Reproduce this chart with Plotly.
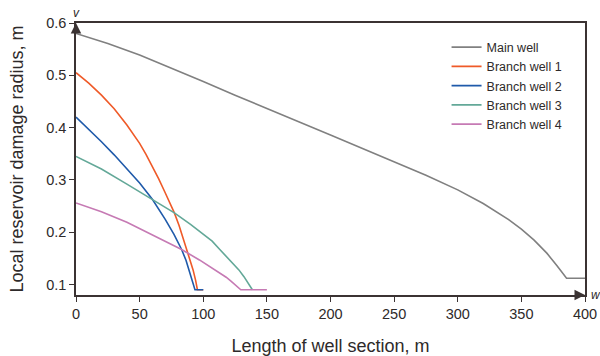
import plotly.graph_objects as go

# Damage radius profiles along each well section
main_x = [0, 25, 50, 75, 100, 125, 150, 175, 200, 225, 250, 275, 300, 320, 340, 350,
          360, 370, 378, 385.5, 400]
main_y = [0.58, 0.561, 0.539, 0.514, 0.488, 0.462, 0.436, 0.411, 0.386, 0.36, 0.334, 0.309,
          0.281, 0.255, 0.224, 0.206, 0.185, 0.16, 0.136, 0.112, 0.112]

b1_x = [0, 10, 20, 30, 40, 50, 55, 60, 65, 70, 77.3, 81, 84, 88.3, 92, 94, 95.4, 100]
b1_y = [0.505, 0.485, 0.462, 0.436, 0.405, 0.370, 0.349, 0.326, 0.302, 0.276, 0.237, 0.213,
        0.19, 0.16, 0.128, 0.108, 0.09, 0.09]

b2_x = [0, 10, 20, 30, 40, 50, 60, 65, 70, 77, 83, 86.5, 89.6, 92, 93.5, 100]
b2_y = [0.42, 0.397, 0.373, 0.348, 0.322, 0.294, 0.263, 0.245, 0.225, 0.196, 0.167, 0.146,
        0.122, 0.103, 0.09, 0.09]

b3_x = [0, 20, 40, 60, 77.3, 90, 100, 107, 113, 119, 124, 128, 132, 135.5, 138.6]
b3_y = [0.345, 0.321, 0.292, 0.263, 0.237, 0.215, 0.197, 0.183, 0.167, 0.152, 0.14, 0.128,
        0.115, 0.103, 0.09]

b4_x = [0, 20, 40, 50, 60, 70, 83, 97, 105, 113, 118, 122, 126, 129.5, 150]
b4_y = [0.256, 0.239, 0.219, 0.207, 0.195, 0.182, 0.167, 0.147, 0.135, 0.122, 0.114, 0.106,
        0.098, 0.09, 0.09]

x_ticks = [0, 50, 100, 150, 200, 250, 300, 350, 400]
y_ticks = [0.1, 0.2, 0.3, 0.4, 0.5, 0.6]

series = [
    ("Main well", main_x, main_y, "#808080"),
    ("Branch well 1", b1_x, b1_y, "#ef5a28"),
    ("Branch well 2", b2_x, b2_y, "#1f5aaa"),
    ("Branch well 3", b3_x, b3_y, "#63a898"),
    ("Branch well 4", b4_x, b4_y, "#c67ab4"),
]

axis_col = "#3b3333"
font_fam = "Arial, Liberation Sans, sans-serif"

fig = go.Figure()
for name, xs, ys, col in series:
    fig.add_trace(go.Scatter(x=xs, y=ys, mode="lines", name=name,
                             line=dict(color=col, width=1.6)))

fig.update_layout(
    width=600, height=356,
    margin=dict(l=76, r=15, t=23, b=61, autoexpand=False),
    paper_bgcolor="white", plot_bgcolor="white",
    font=dict(family=font_fam, color="#2e2a2a", size=14),
    showlegend=True,
    legend=dict(x=0.728, y=0.965, xanchor="left", yanchor="top",
                bgcolor="rgba(0,0,0,0)", font=dict(size=12.5),
                itemwidth=30, tracegroupgap=0),
)
fig.update_xaxes(range=[0, 400], tickvals=x_ticks, showgrid=False, zeroline=False,
                 automargin=False,
                 showline=True, linecolor=axis_col, linewidth=1.5, mirror=True,
                 ticks="outside", ticklen=5, tickcolor=axis_col, tickwidth=1.3,
                 tickfont=dict(size=14.5),
                 title=dict(text="Length of well section, m", font=dict(size=18), standoff=28))
fig.update_yaxes(range=[0.08, 0.6], tickvals=y_ticks, tickformat=".1f", showgrid=False,
                 automargin=False,
                 zeroline=False, showline=True, linecolor=axis_col, linewidth=1.5, mirror=True,
                 ticks="outside", ticklen=5, tickcolor=axis_col, tickwidth=1.3,
                 tickfont=dict(size=14.5),
                 title=dict(text="Local reservoir damage radius, m", font=dict(size=18), standoff=18))

# arrowheads on the axes and their italic labels
fig.add_annotation(x=0, y=0.6, xref="x", yref="y", text="", showarrow=True,
                   ax=0, ay=10, arrowhead=2, arrowsize=1.4, arrowwidth=1.5, arrowcolor=axis_col)
fig.add_annotation(x=400, y=0.08, xref="x", yref="y", text="", showarrow=True,
                   ax=-10, ay=0, arrowhead=2, arrowsize=1.4, arrowwidth=1.5, arrowcolor=axis_col)
fig.add_annotation(x=0, y=0.6, xref="x", yref="y", text="<i>v</i>", showarrow=False,
                   yanchor="bottom", yshift=1, font=dict(size=12))
fig.add_annotation(x=400, y=0.08, xref="x", yref="y", text="<i>w</i>", showarrow=False,
                   xanchor="left", xshift=4, font=dict(size=12))

fig.write_html("out.html")
